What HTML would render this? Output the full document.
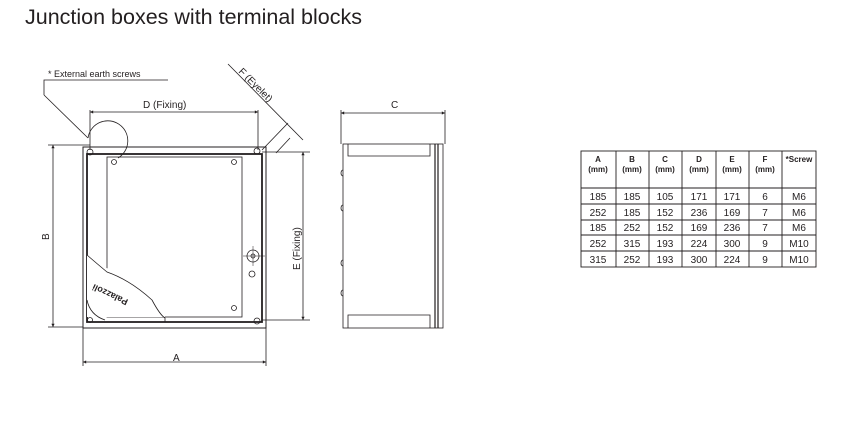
<!DOCTYPE html>
<html><head><meta charset="utf-8"><style>
body{margin:0;width:847px;height:418px;background:#fff;overflow:hidden;font-family:"Liberation Sans",sans-serif}
</style></head><body>
<svg width="847" height="418" viewBox="0 0 847 418" xmlns="http://www.w3.org/2000/svg" font-family="Liberation Sans, sans-serif">
<defs><marker id="ar" viewBox="0 0 10 10" refX="10" refY="5" markerWidth="6" markerHeight="4" orient="auto-start-reverse"><path d="M0,0 L10,5 L0,10z" fill="#231f20"/></marker></defs>
<text x="25" y="24" font-size="21.5" fill="#231f20">Junction boxes with terminal blocks</text>
<g stroke="#231f20" fill="none" stroke-width="0.8">
<polyline points="44,95 44,80 168,80"/>
<line x1="44" y1="95" x2="88" y2="138"/>
<text x="48" y="77" font-size="9" fill="#231f20" stroke="none">* External earth screws</text>
<path d="M88,138 A20,20 0 1 1 118,158"/>
<rect x="83" y="147" width="183" height="181" stroke-width="1"/>
<rect x="87" y="154" width="175" height="168" stroke-width="1.8"/>
<rect x="107" y="157" width="135" height="160"/>
<path d="M87,255 C100,270 110,268 135,275 C150,285 160,300 165,317 L87,317" fill="#fff" stroke="none"/>
<path d="M87,255 Q95,262 107,272 Q130,280 152,300 Q160,315 165,318 L165,322"/>
<path d="M87,300 Q90,315 105,320"/>
<text x="130" y="298" font-size="9" font-weight="bold" fill="#231f20" stroke="none" text-anchor="middle" transform="rotate(205 120 297)">Palazzoli</text>
<circle cx="90" cy="152" r="3"/><circle cx="114" cy="162" r="2.5"/><circle cx="234" cy="162" r="2.5"/>
<circle cx="257" cy="151" r="3"/><circle cx="257" cy="321" r="3"/><circle cx="90" cy="320" r="2.5"/>
<circle cx="234" cy="308" r="2.5"/><circle cx="253" cy="256" r="6"/><circle cx="253" cy="256" r="2"/>
<circle cx="252" cy="274" r="3"/>
<line x1="243" y1="256" x2="265" y2="256" stroke-width="0.5"/><line x1="253" y1="246" x2="253" y2="266" stroke-width="0.5"/>
<line x1="90" y1="112" x2="258" y2="112" marker-start="url(#ar)" marker-end="url(#ar)"/><line x1="90" y1="110" x2="90" y2="150"/><line x1="258" y1="110" x2="258" y2="150"/>
<text x="143" y="108" font-size="10" fill="#231f20" stroke="none">D (Fixing)</text>
<line x1="228" y1="64" x2="303" y2="140"/><line x1="262" y1="150" x2="288" y2="123"/><line x1="276" y1="153" x2="290" y2="138"/>
<text x="238" y="72" font-size="10" fill="#231f20" stroke="none" transform="rotate(45 238 72)">F (Eyelet)</text>
<line x1="53" y1="145" x2="53" y2="327" marker-start="url(#ar)" marker-end="url(#ar)"/><line x1="48" y1="145" x2="90" y2="145"/><line x1="48" y1="327" x2="83" y2="327"/>
<text x="49" y="240" font-size="10" fill="#231f20" stroke="none" transform="rotate(-90 49 240)">B</text>
<line x1="303" y1="152" x2="303" y2="320" marker-start="url(#ar)" marker-end="url(#ar)"/><line x1="262" y1="152" x2="310" y2="152"/><line x1="262" y1="320" x2="310" y2="320"/>
<text x="300" y="270" font-size="10" fill="#231f20" stroke="none" transform="rotate(-90 300 270)">E (Fixing)</text>
<line x1="83" y1="362" x2="266" y2="362" marker-start="url(#ar)" marker-end="url(#ar)"/><line x1="83" y1="328" x2="83" y2="366"/><line x1="266" y1="328" x2="266" y2="366"/>
<text x="173" y="361" font-size="10" fill="#231f20" stroke="none">A</text>
<line x1="341" y1="113" x2="445" y2="113" marker-start="url(#ar)" marker-end="url(#ar)"/><line x1="341" y1="110" x2="341" y2="144"/><line x1="445" y1="110" x2="445" y2="144"/>
<text x="391" y="108" font-size="10" fill="#231f20" stroke="none">C</text>
<rect x="343" y="144" width="100" height="184"/>
<line x1="435" y1="144" x2="435" y2="328" stroke-width="1.2"/><line x1="438" y1="144" x2="438" y2="328" stroke-width="1.2"/>
<path d="M348,144 V156 H430 V144"/><path d="M348,328 V315 H430 V328"/>
<path d="M343,170 a2,3 0 0 0 0,6 M343,205 a2,3 0 0 0 0,6 M343,260 a2,3 0 0 0 0,6 M343,290 a2,3 0 0 0 0,6"/>
</g>
<g stroke="#231f20" stroke-width="0.9" fill="none">
<rect x="581" y="151" width="235" height="116"/>
<line x1="581" y1="188" x2="816" y2="188"/><line x1="581" y1="204" x2="816" y2="204"/><line x1="581" y1="220" x2="816" y2="220"/><line x1="581" y1="235" x2="816" y2="235"/><line x1="581" y1="251" x2="816" y2="251"/>
<line x1="616" y1="151" x2="616" y2="267"/><line x1="649" y1="151" x2="649" y2="267"/><line x1="682" y1="151" x2="682" y2="267"/><line x1="716" y1="151" x2="716" y2="267"/><line x1="749" y1="151" x2="749" y2="267"/><line x1="782" y1="151" x2="782" y2="267"/>
</g>
<g font-size="8" fill="#231f20" text-anchor="middle" font-weight="bold">
<text x="598" y="162">A</text><text x="598" y="172">(mm)</text>
<text x="632" y="162">B</text><text x="632" y="172">(mm)</text>
<text x="665" y="162">C</text><text x="665" y="172">(mm)</text>
<text x="699" y="162">D</text><text x="699" y="172">(mm)</text>
<text x="732" y="162">E</text><text x="732" y="172">(mm)</text>
<text x="765" y="162">F</text><text x="765" y="172">(mm)</text>
<text x="799" y="162">*Screw</text>
</g>
<g font-size="10" fill="#231f20" text-anchor="middle">
<text x="598" y="200">185</text><text x="632" y="200">185</text><text x="665" y="200">105</text><text x="699" y="200">171</text><text x="732" y="200">171</text><text x="765" y="200">6</text><text x="799" y="200">M6</text>
<text x="598" y="216">252</text><text x="632" y="216">185</text><text x="665" y="216">152</text><text x="699" y="216">236</text><text x="732" y="216">169</text><text x="765" y="216">7</text><text x="799" y="216">M6</text>
<text x="598" y="231">185</text><text x="632" y="231">252</text><text x="665" y="231">152</text><text x="699" y="231">169</text><text x="732" y="231">236</text><text x="765" y="231">7</text><text x="799" y="231">M6</text>
<text x="598" y="247">252</text><text x="632" y="247">315</text><text x="665" y="247">193</text><text x="699" y="247">224</text><text x="732" y="247">300</text><text x="765" y="247">9</text><text x="799" y="247">M10</text>
<text x="598" y="263">315</text><text x="632" y="263">252</text><text x="665" y="263">193</text><text x="699" y="263">300</text><text x="732" y="263">224</text><text x="765" y="263">9</text><text x="799" y="263">M10</text>
</g>
</svg>
</body></html>
